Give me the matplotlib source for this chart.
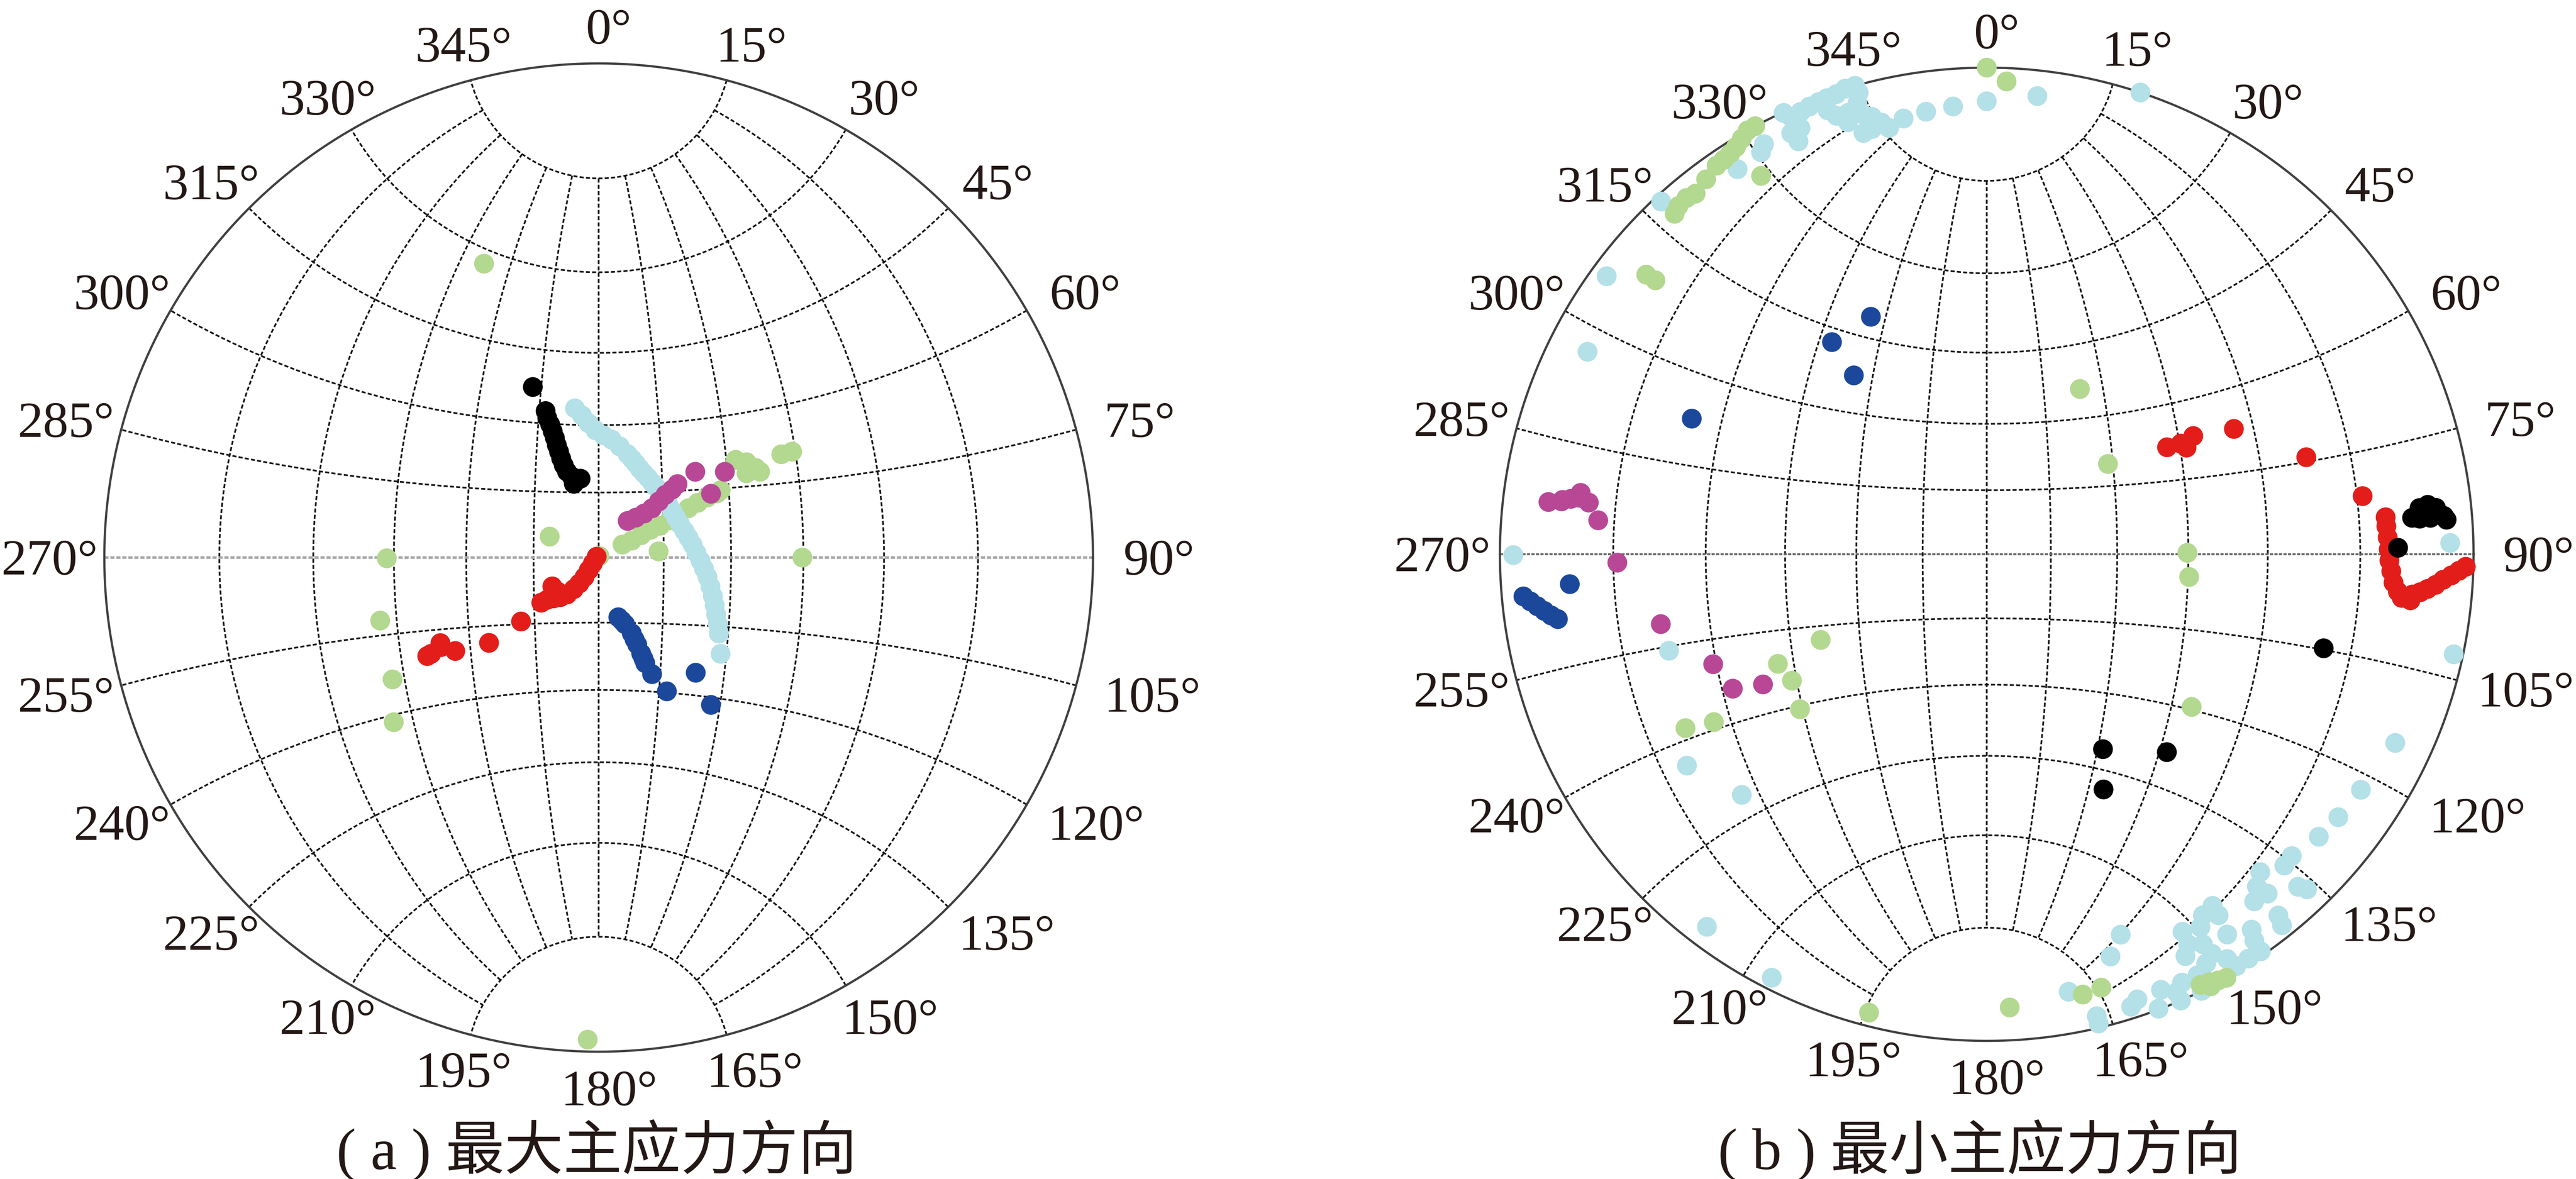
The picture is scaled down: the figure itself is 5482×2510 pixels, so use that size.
import numpy as np
import matplotlib.pyplot as plt

plt.rcParams['font.family'] = ['Liberation Serif', 'Noto Sans CJK SC']

# ---- (a) 最大主应力方向: trend / plunge (deg) ----
a_green_trend = [61.4, 62.9, 62.3, 61.9, 62.6, 62.3, 62.1, 61.2, 61.1, 61.0, 61.5, 61.1,
                 54.5, 57.2, 60.3, 62.0, 60.3, 60.5, 61.3,
                 293.2, 30.6, 84.1, 90.0, 338.7, 269.8, 253.9, 239.4, 231.2, 181.3]
a_green_plunge = [83.7, 81.4, 78.9, 76.4, 74.1, 71.6, 69.1, 66.6, 64.2, 61.8, 59.6, 58.5,
                  52.4, 50.8, 49.8, 49.4, 52.0, 44.0, 41.9,
                  77.7, 89.6, 76.1, 45.2, 24.9, 43.6, 40.6, 38.3, 34.0, 1.4]

a_cyan_trend = [351.0, 353.3, 355.7, 358.6, 2.3, 6.3, 10.7, 15.7, 18.6, 21.6, 24.9, 28.2,
                31.7, 35.5, 39.3, 43.2, 47.9, 52.5, 57.6, 62.8, 67.9, 72.9, 77.6, 82.1,
                87.2, 91.8, 96.1, 100.1, 104.5, 108.6, 112.4, 115.9, 119.2, 122.3, 128.3]
a_cyan_plunge = [56.0, 57.7, 59.5, 61.1, 62.2, 63.0, 64.2, 65.5, 66.2, 66.9, 67.6, 68.1,
                 68.5, 68.9, 69.2, 69.4, 69.7, 69.9, 70.0, 70.0, 69.8, 69.4, 68.9, 68.3,
                 67.6, 66.7, 65.8, 64.8, 63.7, 62.6, 61.5, 60.4, 59.1, 57.9, 55.1]

a_purple_trend = [38.4, 43.0, 45.9, 47.3, 47.0, 46.8, 47.2, 47.0, 48.4, 55.8, 60.4]
a_purple_plunge = [79.2, 77.4, 75.4, 73.3, 71.1, 69.0, 67.1, 65.4, 60.7, 55.7, 60.7]

a_red_trend = [293.0, 225.0, 218.3, 215.9, 216.6, 218.2, 220.5, 224.0, 227.7, 230.7, 231.8,
               238.1, 230.1, 230.5, 232.1, 240.1, 241.6, 236.9, 240.1, 240.4]
a_red_plunge = [89.5, 88.1, 86.3, 84.4, 82.5, 80.7, 78.8, 77.3, 76.0, 74.6, 73.2,
                77.4, 77.7, 67.0, 58.6, 47.3, 50.0, 51.8, 46.4, 49.7]

a_blue_trend = [161.8, 159.8, 158.4, 156.4, 156.3, 156.1, 156.1, 156.1, 156.2, 155.4,
                153.0, 139.9, 142.7]
a_blue_plunge = [75.5, 74.5, 73.5, 71.0, 69.5, 68.2, 66.0, 64.8, 63.7, 60.9,
                 56.2, 56.1, 48.9]

a_black_trend = [338.9, 340.1, 339.8, 340.0, 340.0, 339.9, 339.6, 339.5, 339.3, 339.3,
                 339.8, 341.6, 344.0, 347.1, 341.4]
a_black_plunge = [49.4, 55.0, 56.5, 58.0, 59.6, 61.1, 62.7, 64.2, 65.8, 67.4,
                  69.0, 70.4, 71.6, 71.4, 72.1]

# ---- (b) 最小主应力方向 ----
b_cyan_trend = [335.3, 335.9, 337.2, 338.4, 339.6, 340.7, 341.9, 343.1, 344.3, 344.5,
                344.0, 342.6, 344.3, 345.3, 346.3, 347.1, 344.9, 343.7, 342.2, 341.1,
                340.3, 336.4, 335.5, 335.1, 331.5, 330.7, 327.1, 317.3, 306.2, 296.9,
                349.2, 352.2, 355.7, 0.0, 6.3, 18.4,
                269.9, 253.1, 234.8, 225.5, 216.9, 206.9, 88.6, 102.1, 114.8, 122.2,
                126.8, 130.4, 134.7, 136.3, 136.9, 136.3, 139.3, 140.9, 140.4, 142.4,
                141.1, 141.5, 144.8, 145.3, 145.4, 147.1, 147.7, 147.3, 147.3, 149.1,
                150.2, 152.6, 152.7, 153.7, 151.0, 150.6, 151.8, 149.3, 148.8, 153.4,
                155.5, 156.6, 156.5, 153.8, 158.2, 159.3, 161.3, 162.3, 160.6, 162.9,
                169.4, 166.6, 166.6]
b_cyan_plunge = [0.1, 0.9, 0.8, 0.6, 0.5, 0.4, 0.3, 0.0, 0.0, 0.9,
                 2.1, 2.9, 3.6, 4.2, 5.2, 6.1, 5.7, 5.9, 4.0, 2.8,
                 1.8, 2.6, 4.0, 2.7, 2.4, 3.1, 3.4, 0.8, 1.9, 4.8,
                 5.3, 4.9, 4.6, 4.1, 3.1, 0.0,
                 1.6, 21.4, 16.0, 19.6, 2.5, 1.4, 2.8, 1.1, 4.5, 5.5,
                 5.9, 6.3, 7.2, 7.0, 3.8, 2.8, 8.5, 7.3, 5.7, 6.0,
                 2.7, 1.5, 3.3, 2.0, 0.5, 0.6, 4.5, 8.7, 7.2, 8.3,
                 7.1, 7.7, 5.9, 4.7, 5.0, 3.4, 2.7, 1.9, 0.6, 1.9,
                 1.9, 1.1, 0.0, 0.0, 2.1, 0.1, 2.0, 1.4, 10.7, 8.3,
                 5.1, 1.4, 0.5]

b_green_trend = [331.6, 330.6, 329.5, 328.4, 327.4, 326.3, 325.2, 323.2, 321.1, 319.9,
                 318.5, 317.5, 329.2, 309.4, 309.6, 0.0, 2.4, 29.4, 53.3, 89.6, 96.4,
                 126.7, 242.7, 242.3, 237.0, 230.3, 238.4, 240.0, 194.4, 177.1, 167.7,
                 165.2, 153.6, 152.5, 151.5, 150.5, 152.6]
b_green_plunge = [0.0, 0.0, 0.5, 1.0, 1.3, 1.5, 1.6, 2.2, 2.8, 2.5,
                  2.6, 3.0, 5.7, 5.7, 7.1, 0.0, 1.6, 47.4, 55.5, 45.2, 44.6,
                  34.6, 48.0, 38.3, 39.0, 37.0, 23.3, 18.9, 1.6, 4.0, 4.4,
                  4.7, 0.7, 0.5, 0.2, 0.0, 0.0]

b_red_trend = [84.7, 86.0, 87.6, 89.3, 90.9, 92.4, 94.0, 95.2, 96.0, 96.2, 95.4, 95.0,
               94.5, 93.9, 93.2, 92.6, 92.0, 91.5,
               59.3, 60.3, 60.2, 61.9, 63.1, 73.1, 81.2]
b_red_plunge = [11.1, 11.1, 11.0, 10.9, 10.8, 10.5, 10.1, 9.4, 8.8, 7.6, 7.4, 6.4,
                5.5, 4.5, 3.6, 2.6, 1.7, 0.9,
                43.4, 40.7, 37.9, 40.1, 30.7, 21.1, 14.0]

b_black_trend = [85.1, 83.9, 83.6, 84.1, 85.2, 85.7, 85.3, 85.3, 89.1, 105.6, 149.2, 137.7, 153.6]
b_black_plunge = [7.5, 6.4, 5.3, 4.3, 3.4, 3.1, 5.1, 6.5, 9.6, 18.6, 40.0, 32.4, 33.3]

b_purple_trend = [276.8, 277.1, 277.6, 277.3, 277.9, 277.4, 278.6, 275.0, 268.7, 257.9,
                  248.1, 242.1, 239.8]
b_purple_plunge = [5.6, 7.3, 8.5, 7.4, 9.6, 11.0, 9.7, 12.6, 15.6, 21.2,
                   27.6, 28.9, 34.0]

b_blue_trend = [334.0, 323.9, 323.4, 294.7, 264.8, 264.1, 263.4, 262.7, 262.0, 261.4, 265.9]
b_blue_plunge = [33.0, 33.3, 40.8, 22.6, 2.6, 3.4, 4.2, 5.0, 5.8, 6.6, 8.7]

angle_labels = list(range(0, 360, 15))
captions = ['( a ) 最大主应力方向', '( b ) 最小主应力方向']

C_GREEN = '#b3d88f'
C_CYAN = '#b4e0e7'
C_PURPLE = '#b84896'
C_RED = '#e31e1a'
C_BLUE = '#1c489c'
C_BLACK = '#000000'
TXT = '#231815'

W, H = 5482, 2510
DPI = 200
HALF = 1.2
fig = plt.figure(figsize=(W / DPI, H / DPI), dpi=DPI)


def proj(trend, plunge):
    # 下半球等角度投影（吴氏网）
    t = np.radians(np.asarray(trend, float))
    p = np.radians(np.asarray(plunge, float))
    r = np.tan((np.pi / 2 - p) / 2)
    return r * np.sin(t), r * np.cos(t)


def vec_xy(n, e, d):
    plunge = np.degrees(np.arcsin(np.clip(d, -1, 1)))
    trend = np.degrees(np.arctan2(e, n))
    return proj(trend, plunge)


def make_ax(cx, cy, R):
    ax = fig.add_axes([(cx - HALF * R) / W, (H - cy - HALF * R) / H,
                       2 * HALF * R / W, 2 * HALF * R / H])
    ax.set_xlim(-HALF, HALF)
    ax.set_ylim(-HALF, HALF)
    ax.axis('off')
    return ax


def draw_net(ax, R, ew_color, ew_lw):
    grid_kw = dict(color='#141414', lw=1.3, dashes=(2.4, 1.3), zorder=1)
    phi = np.linspace(0, np.pi, 400)
    # 小圆
    for rho in range(15, 90, 15):
        rr = np.radians(rho)
        for s in (1, -1):
            n = s * np.cos(rr) * np.ones_like(phi)
            e = np.sin(rr) * np.cos(phi)
            d = np.sin(rr) * np.sin(phi)
            ax.plot(*vec_xy(n, e, d), **grid_kw)
    # 大圆（经线），裁剪在15°小圆之间
    alpha = np.radians(np.linspace(15, 165, 400))
    for dip in range(15, 91, 15):
        dr = np.radians(dip)
        for s in (1, -1):
            if dip == 90 and s == -1:
                continue
            n = np.cos(alpha)
            e = s * np.sin(alpha) * np.cos(dr)
            d = np.sin(alpha) * np.sin(dr)
            ax.plot(*vec_xy(n, e, d), **grid_kw)
    ax.plot([-1, 1], [0, 0], color=ew_color, lw=ew_lw, dashes=(1.6, 0.7), zorder=1)
    th = np.linspace(0, 2 * np.pi, 721)
    ax.plot(np.cos(th), np.sin(th), color='#404040', lw=1.7, zorder=2)

    # 方位角标注
    renderer = fig.canvas.get_renderer()
    fs = 39
    hd = 0.66 * fs * DPI / 72 / R
    for a in angle_labels:
        t = ax.text(0, 0, f'{a}°', fontsize=fs, ha='center', va='baseline', color=TXT)
        w = t.get_window_extent(renderer).width / R
        s, c = np.sin(np.radians(a)), np.cos(np.radians(a))
        x = 1.04 * s + s * w / 2 + 0.021
        y = 1.04 * c + c * hd / 2 - hd / 2
        t.set_position((x, y))
        # 不让标注超出图幅
        bb = t.get_window_extent(renderer)
        if bb.x1 > W - 4:
            t.set_position((x - (bb.x1 - W + 4) / R, y))
        elif bb.x0 < 2:
            t.set_position((x + (2 - bb.x0) / R, y))


def dots(ax, trend, plunge, color, z):
    x, y = proj(trend, plunge)
    ax.scatter(x, y, s=230, c=color, edgecolors='none', zorder=z)


# 左图
R_a = 1052
ax_a = make_ax(1274, 1187, R_a)
draw_net(ax_a, R_a, '#a6a6a6', 2.0)
dots(ax_a, a_green_trend, a_green_plunge, C_GREEN, 3)
dots(ax_a, a_cyan_trend, a_cyan_plunge, C_CYAN, 4)
dots(ax_a, a_purple_trend, a_purple_plunge, C_PURPLE, 5)
dots(ax_a, a_red_trend, a_red_plunge, C_RED, 6)
dots(ax_a, a_blue_trend, a_blue_plunge, C_BLUE, 7)
dots(ax_a, a_black_trend, a_black_plunge, C_BLACK, 8)

# 右图
R_b = 1036
ax_b = make_ax(4228, 1180, R_b)
draw_net(ax_b, R_b, '#666666', 1.5)
dots(ax_b, b_cyan_trend, b_cyan_plunge, C_CYAN, 3)
dots(ax_b, b_green_trend, b_green_plunge, C_GREEN, 4)
dots(ax_b, b_red_trend, b_red_plunge, C_RED, 5)
dots(ax_b, b_black_trend, b_black_plunge, C_BLACK, 6)
dots(ax_b, b_purple_trend, b_purple_plunge, C_PURPLE, 7)
dots(ax_b, b_blue_trend, b_blue_plunge, C_BLUE, 8)

# 图注
fig.text(1270 / W, 1 - 2449 / H, captions[0], fontsize=45, ha='center', va='center', color=TXT)
fig.text(4213 / W, 1 - 2449 / H, captions[1], fontsize=45, ha='center', va='center', color=TXT)

fig.savefig('out.png', dpi=DPI, facecolor='white')
